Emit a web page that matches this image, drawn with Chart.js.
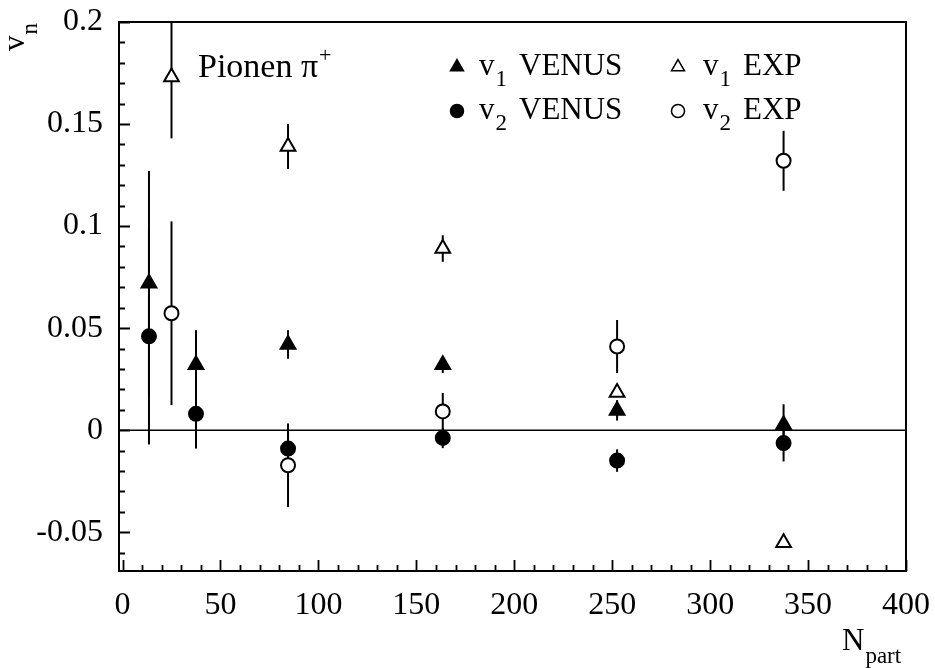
<!DOCTYPE html>
<html>
<head>
<meta charset="utf-8">
<script src="https://cdn.jsdelivr.net/npm/chart.js@4/dist/chart.umd.min.js"></script>
<style>
  html, body { margin: 0; padding: 0; background: #fff; }
</style>
</head>
<body>
<canvas id="c" width="935" height="668"></canvas>
<script>
'use strict';

const FONT = '"Liberation Serif", "Times New Roman", serif';

/* ── Data ─────────────────────────────────────────────────── */

// N_part of each centrality bin
const nPartVenus = [13.5, 37.5, 84.5, 163.5, 252.5, 337.5];
const nPartExp   = [25, 84.5, 163.5, 252.5, 337.5];

// VENUS model
const v1Venus    = [0.072, 0.032, 0.042, 0.032, 0.0097, 0.0027];
const v1VenusErr = [0.055, 0.017, 0.007, 0.004, 0.005, 0.010];
const v2Venus    = [0.046, 0.008, -0.009, -0.0038, -0.0149, -0.0063];
const v2VenusErr = [0.053, 0.017, 0.010, 0.005, 0.0055, 0.009];

// measured
const v1Exp    = [0.173, 0.139, 0.089, 0.0185, -0.0552];
const v1ExpErr = [0.030, 0.011, 0.0065, 0.002, 0.002];
const v2Exp    = [0.0573, -0.0172, 0.0092, 0.041, 0.132];
const v2ExpErr = [0.045, 0.0205, 0.009, 0.013, 0.0147];

const xTickValues = [0, 50, 100, 150, 200, 250, 300, 350, 400];
const yTickValues = [-0.05, 0, 0.05, 0.1, 0.15, 0.2];

function points(xs, ys, errs) {
  return xs.map((x, i) => ({ x, y: ys[i], err: errs[i] }));
}

/* ── Plugins ──────────────────────────────────────────────── */

// zero line and vertical error bars, clipped to the frame, under the markers
const errorBars = {
  id: 'errorBars',
  beforeDatasetsDraw(chart) {
    const { ctx, chartArea: a, scales: { y } } = chart;
    ctx.save();
    ctx.beginPath();
    ctx.rect(a.left, a.top, a.right - a.left, a.bottom - a.top);
    ctx.clip();

    const y0 = y.getPixelForValue(0);
    ctx.strokeStyle = '#000';
    ctx.lineWidth = 1.5;
    ctx.beginPath();
    ctx.moveTo(a.left, y0);
    ctx.lineTo(a.right, y0);
    ctx.stroke();

    ctx.lineWidth = 2;
    chart.data.datasets.forEach((ds, i) => {
      const meta = chart.getDatasetMeta(i);
      ds.data.forEach((d, j) => {
        const px = meta.data[j].x;
        ctx.beginPath();
        ctx.moveTo(px, y.getPixelForValue(d.y + d.err));
        ctx.lineTo(px, y.getPixelForValue(d.y - d.err));
        ctx.stroke();
      });
    });
    ctx.restore();
  },
};

// frame with inward ticks on the left and bottom axes
const frame = {
  id: 'frame',
  afterDatasetsDraw(chart) {
    const { ctx, chartArea: a, scales: { x, y } } = chart;
    ctx.save();
    ctx.strokeStyle = '#000';
    ctx.lineWidth = 2;
    ctx.strokeRect(a.left, a.top, a.right - a.left, a.bottom - a.top);

    ctx.beginPath();
    for (let v = -60; v <= 200; v += 10) {
      const py = Math.round(y.getPixelForValue(v / 1000)) + 0.5;
      const len = v % 50 === 0 ? 11 : 6;
      ctx.moveTo(a.left, py);
      ctx.lineTo(a.left + len, py);
    }
    for (let v = 0; v <= 400; v += 10) {
      const px = Math.round(x.getPixelForValue(v)) + 0.5;
      const len = v % 50 === 0 ? 11 : 6;
      ctx.moveTo(px, a.bottom);
      ctx.lineTo(px, a.bottom - len);
    }
    ctx.lineWidth = 1.8;
    ctx.stroke();
    ctx.restore();
  },
};

function subText(ctx, main, sub, x, y, size, subSize, drop) {
  ctx.font = `${size}px ${FONT}`;
  ctx.fillText(main, x, y);
  const w = ctx.measureText(main).width;
  ctx.font = `${subSize}px ${FONT}`;
  ctx.fillText(sub, x + w + 1, y + drop);
  return x + w + 1 + ctx.measureText(sub).width;
}

// axis titles, label and legend
const annotations = {
  id: 'annotations',
  afterDraw(chart) {
    const ctx = chart.ctx;
    ctx.save();
    ctx.fillStyle = '#000';
    ctx.textBaseline = 'alphabetic';
    ctx.textAlign = 'left';

    // y title, rotated
    ctx.save();
    ctx.translate(24, 51);
    ctx.rotate(-Math.PI / 2);
    subText(ctx, 'v', 'n', 0, 0, 31, 23, 13);
    ctx.restore();

    // x title
    subText(ctx, 'N', 'part', 842, 650, 31, 23, 13);

    // label
    ctx.font = `34px ${FONT}`;
    ctx.fillText('Pionen \u03c0', 198, 77);
    const w = ctx.measureText('Pionen \u03c0').width;
    ctx.font = `22px ${FONT}`;
    ctx.fillText('+', 198 + w + 1, 62);

    // legend
    const rows = [
      { mx: 457, my: 67, style: 'triangle', fill: '#000', r: 7.5, x0: 479, base: 75, sub: '1', text: 'VENUS' },
      { mx: 457, my: 111, style: 'circle', fill: '#000', r: 6.5, x0: 479, base: 119, sub: '2', text: 'VENUS' },
      { mx: 678, my: 67, style: 'triangle', fill: '#fff', r: 7.5, x0: 703, base: 75, sub: '1', text: 'EXP' },
      { mx: 678, my: 111, style: 'circle', fill: '#fff', r: 6.5, x0: 703, base: 119, sub: '2', text: 'EXP' },
    ];
    rows.forEach(r => {
      ctx.fillStyle = r.fill;
      ctx.strokeStyle = '#000';
      ctx.lineWidth = 1.5;
      Chart.helpers.drawPoint(ctx, { pointStyle: r.style, radius: r.r, rotation: 0, borderWidth: 1.5 }, r.mx, r.my);
      ctx.fillStyle = '#000';
      subText(ctx, 'v', r.sub, r.x0, r.base, 31, 23, 11);
      ctx.font = `31px ${FONT}`;
      ctx.fillText(r.text, r.x0 + 40, r.base);
    });
    ctx.restore();
  },
};

/* ── Chart ────────────────────────────────────────────────── */

const marker = (style, filled, radius) => ({
  pointStyle: style,
  pointRadius: radius,
  pointHoverRadius: radius,
  pointBackgroundColor: filled ? '#000' : '#fff',
  pointBorderColor: '#000',
  pointBorderWidth: 2,
  showLine: false,
});

new Chart(document.getElementById('c'), {
  type: 'scatter',
  data: {
    datasets: [
      { label: 'v1 EXP', data: points(nPartExp, v1Exp, v1ExpErr), ...marker('triangle', false, 8.5) },
      { label: 'v2 EXP', data: points(nPartExp, v2Exp, v2ExpErr), ...marker('circle', false, 7) },
      { label: 'v1 VENUS', data: points(nPartVenus, v1Venus, v1VenusErr), ...marker('triangle', true, 8.5) },
      { label: 'v2 VENUS', data: points(nPartVenus, v2Venus, v2VenusErr), ...marker('circle', true, 7) },
    ],
  },
  options: {
    responsive: false,
    animation: false,
    layout: { padding: { left: 0, right: 29, top: 22, bottom: 0 } },
    plugins: {
      legend: { display: false },
      tooltip: { enabled: false },
    },
    scales: {
      x: {
        type: 'linear',
        min: -1.8,
        max: 400,
        grid: { display: false, drawTicks: false },
        border: { display: false },
        afterBuildTicks: s => { s.ticks = xTickValues.map(value => ({ value })); },
        afterFit: s => { s.height = 97; s.paddingLeft = 0; s.paddingRight = 0; },
        ticks: {
          padding: 15,
          color: '#000',
          font: { family: FONT, size: 32 },
          callback: v => String(v),
        },
      },
      y: {
        type: 'linear',
        min: -0.069,
        max: 0.2,
        grid: { display: false, drawTicks: false },
        border: { display: false },
        afterBuildTicks: s => { s.ticks = yTickValues.map(value => ({ value })); },
        afterFit: s => { s.width = 119; s.paddingTop = 0; s.paddingBottom = 0; },
        ticks: {
          padding: 16,
          color: '#000',
          font: { family: FONT, size: 32 },
          callback: v => String(+v.toFixed(3)),
        },
      },
    },
  },
  plugins: [errorBars, frame, annotations],
});
</script>
</body>
</html>
